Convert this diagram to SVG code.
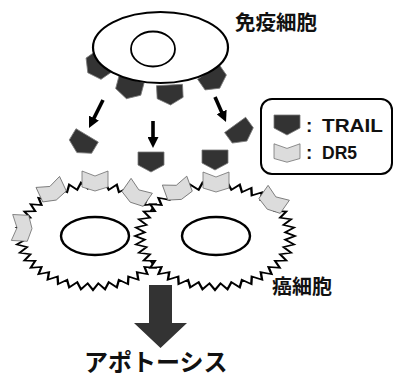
<svg xmlns="http://www.w3.org/2000/svg" xmlns:xlink="http://www.w3.org/1999/xlink" width="395" height="378" viewBox="0 0 395 378">
  <style>
    .trail { fill: #333333; stroke: #7a7a7a; stroke-width: 0.8; stroke-linejoin: round; }
    .dr5 { fill: #dcdcdc; stroke: #6e6e6e; stroke-width: 0.8; stroke-linejoin: round; }
    .membrane { fill: #ffffff; stroke: #000000; stroke-width: 3; stroke-linejoin: miter; stroke-miterlimit: 10; vector-effect: non-scaling-stroke; }
    .nucleus { fill: #ffffff; stroke: #000000; stroke-width: 2.4; }
    .arrow { stroke: #000000; stroke-width: 3.6; fill: none; marker-end: url(#head); }
    .jp { font-family: "Noto Sans CJK JP", "Noto Sans CJK SC", sans-serif; font-weight: bold; fill: #111111; }
    .en { font-family: "Liberation Sans", Arial, sans-serif; font-weight: bold; fill: #111111; font-size: 19px; }
  </style>
  <defs>
    <!-- ligand: flat top, pointed bottom -->
    <polygon id="trail-shape" points="-13,-10 13,-10 13,3 0,10 -13,3"/>
    <!-- receptor: notched top, shallow point below -->
    <polygon id="dr5-shape" points="-13,-10 0,-5 13,-10 13,6 0,10 -13,6"/>
    <!-- jagged cell outline on a radius-100 circle, 40 teeth -->
    <polygon id="jagged" points="100,0 87.7,6.9 98.8,15.6 85.6,20.5 95.1,30.9 81.3,33.7 89.1,45.4 75,46 80.9,58.8 66.9,57.2 70.7,70.7 57.2,66.9 58.8,80.9 46,75 45.4,89.1 33.7,81.3 30.9,95.1 20.5,85.6 15.6,98.8 6.9,87.7 0,100 -6.9,87.7 -15.6,98.8 -20.5,85.6 -30.9,95.1 -33.7,81.3 -45.4,89.1 -46,75 -58.8,80.9 -57.2,66.9 -70.7,70.7 -66.9,57.2 -80.9,58.8 -75,46 -89.1,45.4 -81.3,33.7 -95.1,30.9 -85.6,20.5 -98.8,15.6 -87.7,6.9 -100,0 -87.7,-6.9 -98.8,-15.6 -85.6,-20.5 -95.1,-30.9 -81.3,-33.7 -89.1,-45.4 -75,-46 -80.9,-58.8 -66.9,-57.2 -70.7,-70.7 -57.2,-66.9 -58.8,-80.9 -46,-75 -45.4,-89.1 -33.7,-81.3 -30.9,-95.1 -20.5,-85.6 -15.6,-98.8 -6.9,-87.7 0,-100 6.9,-87.7 15.6,-98.8 20.5,-85.6 30.9,-95.1 33.7,-81.3 45.4,-89.1 46,-75 58.8,-80.9 57.2,-66.9 70.7,-70.7 66.9,-57.2 80.9,-58.8 75,-46 89.1,-45.4 81.3,-33.7 95.1,-30.9 85.6,-20.5 98.8,-15.6 87.7,-6.9"/>
    <marker id="head" markerUnits="userSpaceOnUse" viewBox="0 0 11 11" refX="5" refY="5.5" markerWidth="11" markerHeight="11" orient="auto">
      <path d="M0,0 L11,5.5 L0,11 Z" fill="#000000"/>
    </marker>
  </defs>

  <!-- immune cell with membrane-bound TRAIL -->
  <g id="immune-cell">
    <use xlink:href="#trail-shape" class="trail" transform="translate(96,67) rotate(55)"/>
    <use xlink:href="#trail-shape" class="trail" transform="translate(129,89) rotate(15)"/>
    <use xlink:href="#trail-shape" class="trail" transform="translate(170,95) rotate(-3)"/>
    <use xlink:href="#trail-shape" class="trail" transform="translate(214,80) rotate(-35)"/>
    <ellipse cx="160.5" cy="47.5" rx="67.5" ry="35.5" fill="#ffffff" stroke="#000000" stroke-width="2.2"/>
    <ellipse cx="153" cy="49" rx="22" ry="17.5" fill="none" stroke="#000000" stroke-width="1.8"/>
  </g>
  <text id="label-immune" class="jp" x="235" y="30" font-size="20.5">免疫細胞</text>

  <!-- released TRAIL -->
  <g id="trail-free">
    <use xlink:href="#trail-shape" class="trail" transform="translate(82,144) rotate(31)"/>
    <use xlink:href="#trail-shape" class="trail" transform="translate(151,162)"/>
    <use xlink:href="#trail-shape" class="trail" transform="translate(215,160)"/>
    <use xlink:href="#trail-shape" class="trail" transform="translate(241,133) rotate(-36)"/>
  </g>

  <!-- cancer cells -->
  <g id="cancer-cell-left">
    <use xlink:href="#jagged" class="membrane" transform="translate(93,236) scale(0.77,0.54)"/>
    <ellipse class="nucleus" cx="95" cy="236" rx="34" ry="19"/>
  </g>
  <g id="cancer-cell-right">
    <use xlink:href="#jagged" class="membrane" transform="translate(215,236) scale(0.8,0.54)"/>
    <ellipse class="nucleus" cx="216" cy="236" rx="34" ry="19"/>
  </g>
  <g id="dr5-receptors">
    <use xlink:href="#dr5-shape" class="dr5" transform="translate(22,228) rotate(-87)"/>
    <use xlink:href="#dr5-shape" class="dr5" transform="translate(52,191) rotate(-25)"/>
    <use xlink:href="#dr5-shape" class="dr5" transform="translate(95,181)"/>
    <use xlink:href="#dr5-shape" class="dr5" transform="translate(136,194) rotate(35)"/>
    <use xlink:href="#dr5-shape" class="dr5" transform="translate(178,190) rotate(-20)"/>
    <use xlink:href="#dr5-shape" class="dr5" transform="translate(216,182)"/>
    <use xlink:href="#dr5-shape" class="dr5" transform="translate(273,201) rotate(35)"/>
  </g>
  <text id="label-cancer" class="jp" x="272" y="294" font-size="20">癌細胞</text>

  <!-- legend -->
  <g id="legend">
    <rect x="261" y="99" width="131" height="75" rx="11" ry="11" fill="#ffffff" stroke="#000000" stroke-width="2"/>
    <use xlink:href="#trail-shape" class="trail" transform="translate(287,125)"/>
    <use xlink:href="#dr5-shape" class="dr5" transform="translate(287,153) scale(1,0.92)"/>
    <text class="en" x="306" y="132">:<tspan x="322" textLength="61" lengthAdjust="spacingAndGlyphs">TRAIL</tspan></text>
    <text class="en" x="306" y="159">:<tspan x="322" textLength="35" lengthAdjust="spacingAndGlyphs">DR5</tspan></text>
  </g>

  <!-- connectors -->
  <g id="connectors">
    <line class="arrow" x1="103" y1="100" x2="91.7" y2="122.6"/>
    <line class="arrow" x1="153" y1="121" x2="153" y2="142"/>
    <line class="arrow" x1="215" y1="97" x2="223.6" y2="116.5"/>
    <polygon id="to-apoptosis" points="149,285 172,285 172,323 187,323 160.5,348 134,323 149,323" fill="#333333"/>
  </g>

  <text id="label-apoptosis" class="jp" x="84" y="371" font-size="24">アポトーシス</text>
</svg>
